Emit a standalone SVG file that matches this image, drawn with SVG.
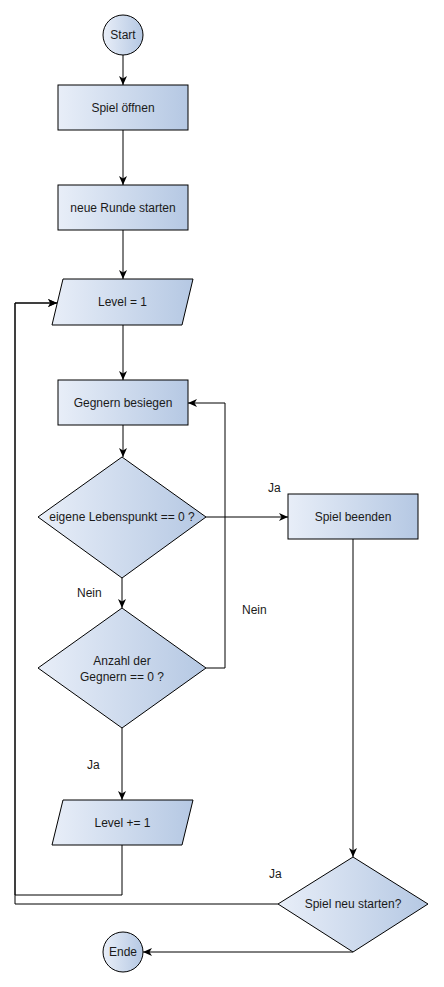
<svg xmlns="http://www.w3.org/2000/svg" width="444" height="987" viewBox="0 0 444 987">
<defs>
<linearGradient id="g" x1="0" y1="0" x2="1" y2="0">
<stop offset="0" stop-color="#e8eef8"/>
<stop offset="1" stop-color="#b5c8e3"/>
</linearGradient>
<marker id="arr" markerWidth="10" markerHeight="8" refX="9" refY="4" orient="auto" markerUnits="userSpaceOnUse">
<path d="M0,0 L9,4 L0,8 L2.5,4 Z" fill="#000"/>
</marker>
<style>
.s{fill:url(#g);stroke:#000;stroke-width:1}
.t{font-family:"Liberation Sans",Arial,sans-serif;font-size:12px;fill:#1a1a1a;text-anchor:middle;dominant-baseline:central}
.l{font-family:"Liberation Sans",Arial,sans-serif;font-size:12px;fill:#1a1a1a}
.c{fill:none;stroke:#000;stroke-width:1}
</style>
</defs>
<rect width="444" height="987" fill="#fff"/>
<g id="connectors">
<path class="c" d="M123,55 V85" marker-end="url(#arr)"/>
<path class="c" d="M123,130 V185" marker-end="url(#arr)"/>
<path class="c" d="M123,230 V279" marker-end="url(#arr)"/>
<path class="c" d="M123,325 V380" marker-end="url(#arr)"/>
<path class="c" d="M123,425 V457" marker-end="url(#arr)"/>
<path class="c" d="M206,517 H288" marker-end="url(#arr)"/>
<path class="c" d="M122,578 V608" marker-end="url(#arr)"/>
<path class="c" d="M206,668 H225 V403 H188" marker-end="url(#arr)"/>
<path class="c" d="M122,728 V800" marker-end="url(#arr)"/>
<path class="c" d="M122,845 V895 H15 V303 H57" marker-end="url(#arr)"/>
<path class="c" d="M353,539 V857" marker-end="url(#arr)"/>
<path class="c" d="M278,904 H15 V303 H57" marker-end="url(#arr)"/>
<path class="c" d="M353,952 H143" marker-end="url(#arr)"/>
<text class="l" x="268" y="492">Ja</text>
<text class="l" x="77" y="597">Nein</text>
<text class="l" x="242" y="614">Nein</text>
<text class="l" x="87" y="769">Ja</text>
<text class="l" x="269" y="878">Ja</text>
</g>
<g id="start"><circle class="s" cx="123" cy="35" r="20"/><text class="t" x="123" y="35">Start</text></g>
<g id="spiel-oeffnen"><rect class="s" x="58" y="85" width="130" height="45"/><text class="t" x="123" y="107.5">Spiel öffnen</text></g>
<g id="neue-runde"><rect class="s" x="58" y="185" width="130" height="45"/><text class="t" x="123" y="207.5">neue Runde starten</text></g>
<g id="level1"><polygon class="s" points="63,279 193,279 182,325 52,325"/><text class="t" x="122.5" y="302">Level = 1</text></g>
<g id="gegnern-besiegen"><rect class="s" x="58" y="380" width="130" height="45"/><text class="t" x="123" y="402.5">Gegnern besiegen</text></g>
<g id="lebenspunkt"><polygon class="s" points="122,457 206,517 122,578 38,517"/><text class="t" x="122" y="517">eigene Lebenspunkt == 0 ?</text></g>
<g id="spiel-beenden"><rect class="s" x="288" y="494" width="130" height="45"/><text class="t" x="353" y="516.5">Spiel beenden</text></g>
<g id="anzahl-gegnern"><polygon class="s" points="122,608 206,668 122,728 38,668"/><text class="t" x="122" y="661">Anzahl der</text><text class="t" x="122" y="677">Gegnern == 0 ?</text></g>
<g id="level-plus"><polygon class="s" points="63,800 193,800 182,845 52,845"/><text class="t" x="122.5" y="822.5">Level += 1</text></g>
<g id="neu-starten"><polygon class="s" points="353,857 428,904 353,952 278,904"/><text class="t" x="353" y="904">Spiel neu starten?</text></g>
<g id="ende"><circle class="s" cx="123" cy="952" r="20"/><text class="t" x="123" y="952">Ende</text></g>
</svg>
